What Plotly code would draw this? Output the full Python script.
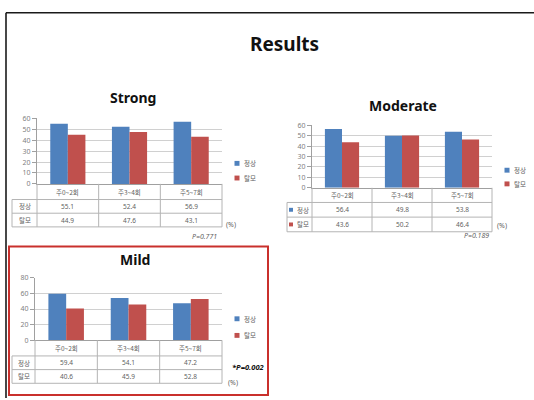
import plotly.graph_objects as go

W, H = 534, 400

# ---- data -------------------------------------------------------------
categories = ["주0~2회", "주3~4회", "주5~7회"]
series_names = ["정상", "탈모"]

strong_normal = [55.1, 52.4, 56.9]
strong_loss = [44.9, 47.6, 43.1]
moderate_normal = [56.4, 49.8, 53.8]
moderate_loss = [43.6, 50.2, 46.4]
mild_normal = [59.4, 54.1, 47.2]
mild_loss = [40.6, 45.9, 52.8]

panel_titles = ["Strong", "Moderate", "Mild"]
p_values = ["P=0.771", "P=0.189", "*P=0.002"]
y_max = [60, 60, 80]
y_step = [10, 10, 20]
main_title = "Results"
unit_label = "(%)"

# ---- styling ----------------------------------------------------------
BLUE = "#4f81bd"
RED = "#c0504d"
GRID = "#d0d0d0"
AXIS = "#a0a0a0"
TABLE = "#b4b4b4"
TEXT = "#5f5f5f"
TICK_TEXT = "#7f7f7f"
LATIN = "Noto Sans, Open Sans, sans-serif"
KOREAN = "Noto Sans CJK KR, Noto Sans, sans-serif"


def px(x):
    return x / W


def py(y):
    return 1 - y / H


# pixel geometry of each panel (plot box, table rows, labels)
layouts = [
    dict(left=12, x0=37, x1=222, ytop=116, y0=183, rows=[199, 213, 227],
         title=(133, 95), legend=(237, 162, 177), pct=(231, 225),
         p=(204, 237), p_bold=False, markers=False),
    dict(left=287, x0=312, x1=492, ytop=123, y0=187, rows=[202, 217, 232],
         title=(403, 103), legend=(507, 169, 183), pct=(502, 226),
         p=(476, 236), p_bold=False, markers=True),
    dict(left=12, x0=35, x1=222, ytop=279, y0=343, rows=[359, 373, 387],
         title=(135, 260), legend=(237, 321, 338), pct=(233, 386),
         p=(248, 370), p_bold=True, markers=False),
]

series = [
    (strong_normal, strong_loss),
    (moderate_normal, moderate_loss),
    (mild_normal, mild_loss),
]

fig = go.Figure()
shapes = []
annotations = []


def line(x0, y0, x1, y1, color=TABLE, width=1):
    shapes.append(dict(type="line", xref="paper", yref="paper",
                       x0=px(x0), y0=py(y0), x1=px(x1), y1=py(y1),
                       line=dict(color=color, width=width)))


def text(x, y, s, size=7, color=TEXT, bold=False, italic=False,
         xanchor="center", family=LATIN):
    if bold:
        s = f"<b>{s}</b>"
    if italic:
        s = f"<i>{s}</i>"
    annotations.append(dict(xref="paper", yref="paper", x=px(x), y=py(y),
                            text=s, showarrow=False, xanchor=xanchor,
                            yanchor="middle",
                            font=dict(size=size, color=color, family=family)))


def square(x, y, color, s=5):
    shapes.append(dict(type="rect", xref="paper", yref="paper",
                       x0=px(x - s / 2), x1=px(x + s / 2),
                       y0=py(y + s / 2), y1=py(y - s / 2),
                       fillcolor=color, line=dict(width=0)))


for i, (g, (normal, loss)) in enumerate(zip(layouts, series)):
    n = "" if i == 0 else str(i + 1)
    xa, ya = "x" + n, "y" + n
    for vals, name, color in zip((normal, loss), series_names, (BLUE, RED)):
        fig.add_trace(go.Bar(x=categories, y=vals, name=name,
                             marker=dict(color=color, line=dict(width=0)),
                             xaxis=xa, yaxis=ya, showlegend=False))

    fig.update_layout(**{
        "xaxis" + n: dict(domain=[px(g["x0"]), px(g["x1"])], anchor=ya,
                          showline=True, linecolor=AXIS, linewidth=1,
                          showticklabels=False, ticks="", showgrid=False,
                          fixedrange=True),
        "yaxis" + n: dict(domain=[py(g["y0"]), py(g["ytop"])], anchor=xa,
                          range=[0, y_max[i]], dtick=y_step[i],
                          showgrid=True, gridcolor=GRID, gridwidth=1,
                          zeroline=False, showline=True, linecolor=AXIS,
                          ticks="outside", ticklen=4, tickcolor=AXIS,
                          tickfont=dict(size=7, color=TICK_TEXT,
                                        family=LATIN),
                          fixedrange=True),
    })

    # data table under the axis
    x0, x1, left = g["x0"], g["x1"], g["left"]
    r0, r1, r2 = g["rows"]
    y0 = g["y0"]
    cw = (x1 - x0) / len(categories)
    bounds = [x0 + k * cw for k in range(len(categories) + 1)]
    for bx in bounds:
        line(bx, y0, bx, r2)
    line(left, r0, left, r2)
    for ry in (r0, r1, r2):
        line(left, ry, x1, ry)

    for k, cat in enumerate(categories):
        cx = x0 + (k + 0.5) * cw
        text(cx, (y0 + r0) / 2, cat, size=6.5, family=KOREAN)
        text(cx, (r0 + r1) / 2, f"{normal[k]:.1f}", size=6.5)
        text(cx, (r1 + r2) / 2, f"{loss[k]:.1f}", size=6.5)

    lab_cx = (left + x0) / 2
    for ry, name, color in (((r0 + r1) / 2, series_names[0], BLUE),
                            ((r1 + r2) / 2, series_names[1], RED)):
        if g["markers"]:
            square(left + 4, ry, color, 4)
            text(lab_cx + 3, ry, name, size=6.5, family=KOREAN)
        else:
            text(lab_cx, ry, name, size=6.5, family=KOREAN)

    # legend
    lx, ly1, ly2 = g["legend"]
    square(lx, ly1, BLUE)
    square(lx, ly2, RED)
    text(lx + 5, ly1, series_names[0], size=6.5, xanchor="left",
         family=KOREAN)
    text(lx + 5, ly2, series_names[1], size=6.5, xanchor="left",
         family=KOREAN)

    # titles and notes
    tx, ty = g["title"]
    text(tx, ty, panel_titles[i], size=14, color="#111111", bold=True)
    text(*g["pct"], unit_label, size=7)
    if g["p_bold"]:
        text(*g["p"], p_values[i], size=7.5, color="#111111", bold=True,
             italic=True)
    else:
        text(*g["p"], p_values[i], size=7, italic=True)

# slide heading
text(284, 40, main_title, size=19, color="#111111", bold=True)

# slide frame (top and left edges)
line(6, 8, W + 2, 8, color="#1a1a1a", width=1.6)
line(6, 8, 6, H + 2, color="#1a1a1a", width=1.6)

# highlight box around the Mild panel
shapes.append(dict(type="rect", xref="paper", yref="paper",
                   x0=px(9), x1=px(268), y0=py(399), y1=py(247),
                   line=dict(color="#c9302c", width=2)))

fig.update_layout(
    width=W, height=H,
    margin=dict(l=0, r=0, t=0, b=0),
    paper_bgcolor="white", plot_bgcolor="white",
    barmode="group", bargap=0.43, bargroupgap=0,
    shapes=shapes, annotations=annotations,
    font=dict(family=LATIN),
    showlegend=False,
)

fig.write_html("out.html", config={"displayModeBar": False})
